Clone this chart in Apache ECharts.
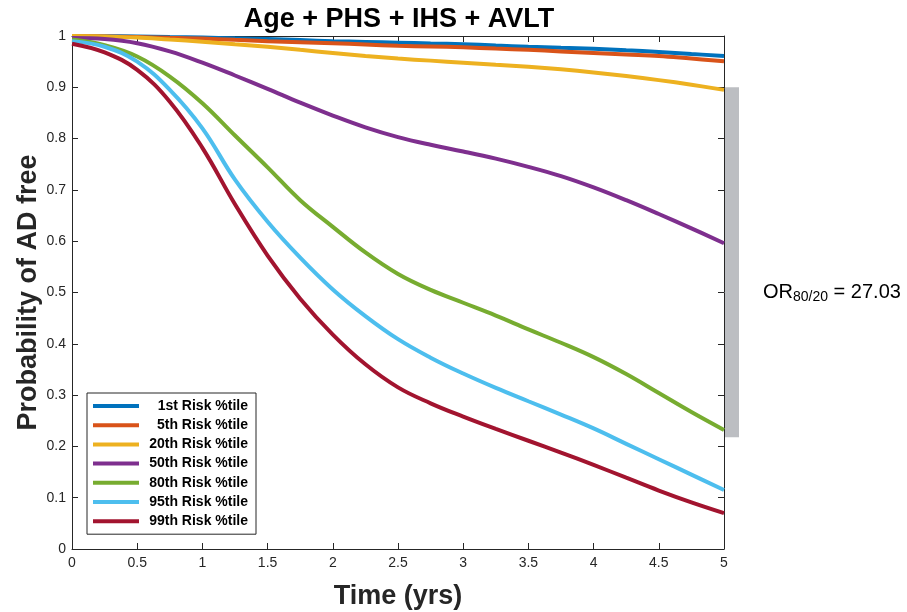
<!DOCTYPE html>
<html>
<head>
<meta charset="utf-8">
<script src="https://cdn.jsdelivr.net/npm/echarts@6/dist/echarts.min.js"></script>
<style>
html,body{margin:0;padding:0;background:#fff;}
#chart{width:907px;height:612px;}
</style>
</head>
<body>
<div id="chart"></div>
<script>
const timeYrs = [0,0.25,0.5,0.75,1,1.25,1.5,1.75,2,2.25,2.5,2.75,3,3.25,3.5,3.75,4,4.25,4.5,4.75,5];
const seriesNames = ['1st Risk %tile','5th Risk %tile','20th Risk %tile','50th Risk %tile','80th Risk %tile','95th Risk %tile','99th Risk %tile'];
const p1st  = [1.0,0.9995,0.999,0.998,0.997,0.9955,0.994,0.992,0.990,0.9885,0.987,0.9855,0.984,0.9815,0.979,0.977,0.975,0.972,0.969,0.965,0.961];
const p5th  = [1.0,0.999,0.998,0.9965,0.995,0.9925,0.99,0.988,0.986,0.9835,0.981,0.9795,0.978,0.9755,0.973,0.970,0.967,0.964,0.961,0.956,0.951];
const p20th = [1.0,0.999,0.997,0.993,0.989,0.984,0.979,0.973,0.967,0.961,0.956,0.952,0.948,0.944,0.94,0.935,0.929,0.922,0.914,0.905,0.895];
const p50th = [0.996,0.994,0.986,0.97,0.948,0.923,0.897,0.870,0.845,0.822,0.803,0.788,0.775,0.761,0.745,0.727,0.705,0.68,0.653,0.625,0.596];
const p80th = [0.993,0.982,0.96,0.921,0.869,0.806,0.744,0.68,0.628,0.578,0.536,0.505,0.48,0.455,0.428,0.402,0.374,0.341,0.304,0.267,0.232];
const p95th = [0.99,0.979,0.95,0.895,0.82,0.72,0.638,0.568,0.506,0.454,0.409,0.373,0.342,0.314,0.288,0.262,0.235,0.205,0.175,0.145,0.115];
const p99th = [0.985,0.968,0.934,0.872,0.782,0.672,0.572,0.488,0.418,0.36,0.315,0.284,0.258,0.234,0.211,0.188,0.164,0.139,0.114,0.091,0.07];
const allSeries = [p1st,p5th,p20th,p50th,p80th,p95th,p99th];
const colors = ['#0072BD','#D95319','#EDB120','#7E2F8E','#77AC30','#4DBEEE','#A2142F'];
// OR bracket: [time, upper prob, lower prob]
const orBar = [[5, 0.9, 0.218]];
const orLabelY = 0.5;
const orText = {main: 'OR', sub: '80/20', rest: ' = 27.03'};

const axisColor = '#262626';
const font = 'Liberation Sans, Arial, sans-serif';
const chart = echarts.init(document.getElementById('chart'), null, {renderer:'canvas'});

const lineSeries = allSeries.map((vals, i) => ({
  name: seriesNames[i],
  type: 'line',
  data: timeYrs.map((t, j) => [t, vals[j]]),
  showSymbol: false,
  smooth: 0.4,
  lineStyle: {width: 4, color: colors[i]},
  itemStyle: {color: colors[i]},
  z: 3 + i,
  animation: false
}));

const option = {
  animation: false,
  backgroundColor: '#fff',
  textStyle: {fontFamily: font},
  title: {
    text: 'Age + PHS + IHS + AVLT',
    left: 394, top: 1, textAlign: 'center',
    textStyle: {fontSize: 27, fontWeight: 'bold', color: '#000', fontFamily: font}
  },
  grid: {left: 72, right: 183, top: 36, bottom: 63, containLabel: false, outerBoundsMode: 'none'},
  legend: {
    orient: 'vertical', left: 87, top: 393,
    data: seriesNames,
    icon: 'rect', itemWidth: 46, itemHeight: 4, itemGap: 5.2,
    padding: [6, 8, 6, 6],
    borderColor: axisColor, borderWidth: 1, backgroundColor: '#fff',
    formatter: n => '{t|' + n + '}',
    textStyle: {
      rich: {t: {width: 104, align: 'right', fontSize: 14, fontWeight: 'bold', color: '#000', fontFamily: font}}
    },
    selectedMode: false
  },
  xAxis: [{
    type: 'value', min: 0, max: 5, interval: 0.5,
    name: 'Time (yrs)', nameLocation: 'middle', nameGap: 34,
    nameTextStyle: {fontSize: 27, fontWeight: 'bold', color: axisColor, fontFamily: font},
    axisLine: {show: true, onZero: false, lineStyle: {color: axisColor, width: 1}},
    axisTick: {show: true, inside: true, length: 6, lineStyle: {color: axisColor}},
    axisLabel: {color: axisColor, fontSize: 14, margin: 7},
    splitLine: {show: false}
  }, {
    type: 'value', min: 0, max: 5, interval: 0.5, position: 'top',
    axisLine: {show: true, onZero: false, lineStyle: {color: axisColor, width: 1}},
    axisTick: {show: true, inside: true, length: 6, lineStyle: {color: axisColor}},
    axisLabel: {show: false}, splitLine: {show: false}
  }],
  yAxis: [{
    type: 'value', min: 0, max: 1, interval: 0.1,
    name: 'Probability of AD free', nameLocation: 'middle', nameGap: 30, nameMoveOverlap: false,
    nameTextStyle: {fontSize: 27, fontWeight: 'bold', color: axisColor, fontFamily: font},
    axisLine: {show: true, onZero: false, lineStyle: {color: axisColor, width: 1}},
    axisTick: {show: true, inside: true, length: 6, lineStyle: {color: axisColor}},
    axisLabel: {color: axisColor, fontSize: 14, margin: 6},
    splitLine: {show: false}
  }, {
    type: 'value', min: 0, max: 1, interval: 0.1, position: 'right',
    axisLine: {show: true, onZero: false, lineStyle: {color: axisColor, width: 1}},
    axisTick: {show: true, inside: true, length: 6, lineStyle: {color: axisColor}},
    axisLabel: {show: false}, splitLine: {show: false}
  }],
  series: lineSeries.concat([{
    type: 'custom',
    clip: false,
    z: 20,
    data: orBar,
    renderItem: function (params, api) {
      const top = api.coord([api.value(0), api.value(1)]);
      const bot = api.coord([api.value(0), api.value(2)]);
      const lab = api.coord([api.value(0), orLabelY]);
      return {
        type: 'group',
        children: [{
          type: 'rect',
          shape: {x: top[0] + 1, y: top[1], width: 14, height: bot[1] - top[1]},
          style: {fill: '#BCBEC2'}
        }, {
          type: 'text',
          style: {
            x: lab[0] + 39, y: lab[1],
            text: '{a|' + orText.main + '}{b|' + orText.sub + '}{a|' + orText.rest + '}',
            verticalAlign: 'middle', align: 'left',
            rich: {
              a: {fontSize: 20, lineHeight: 24, color: '#333', fontFamily: font},
              b: {fontSize: 14, lineHeight: 12, verticalAlign: 'bottom', color: '#333', fontFamily: font}
            }
          }
        }]
      };
    }
  }])
};
chart.setOption(option);
</script>
</body>
</html>
